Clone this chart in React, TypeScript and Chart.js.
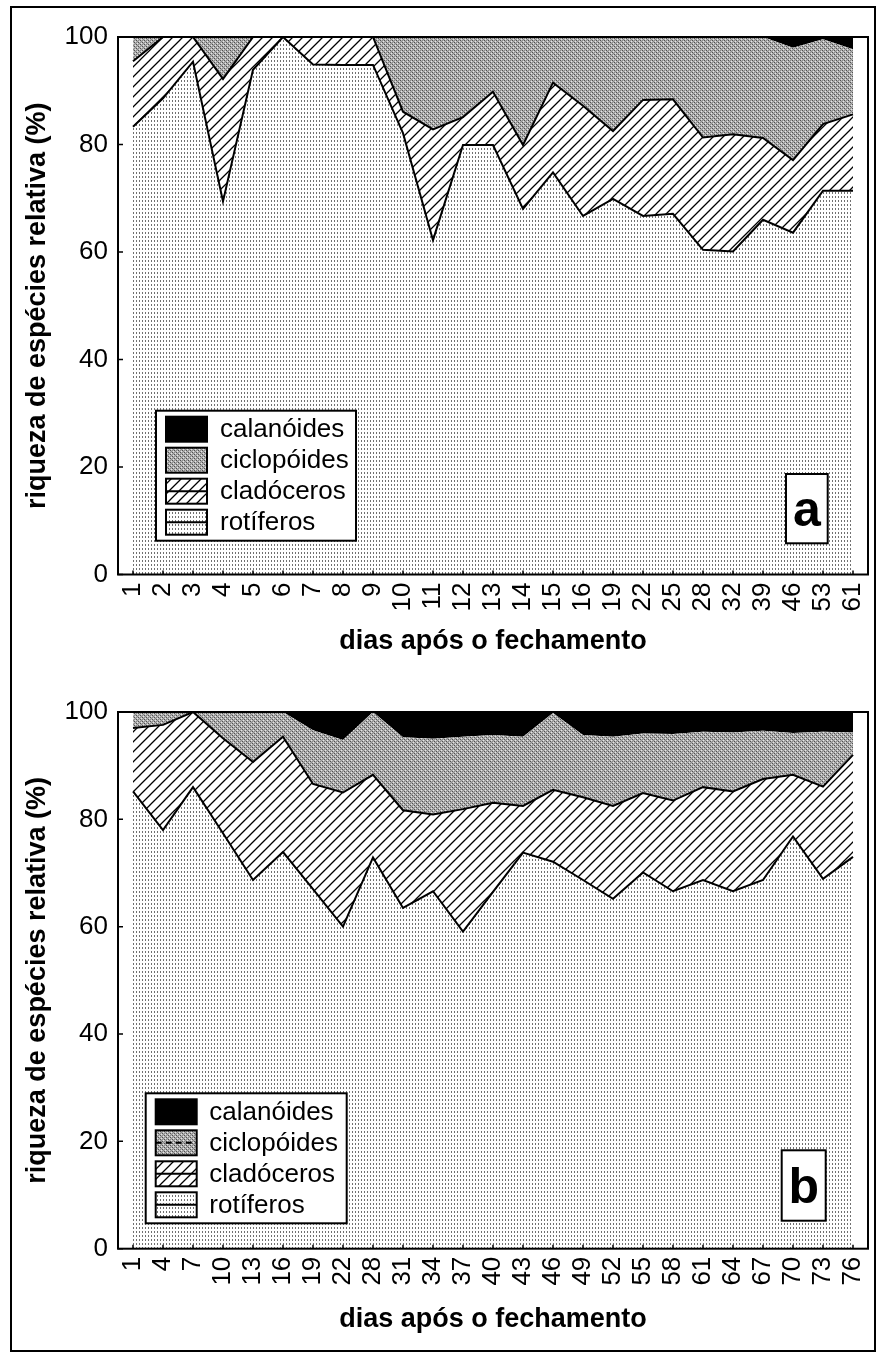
import React, { useEffect, useRef } from 'react';
import { Chart, registerables } from 'chart.js';

Chart.register(...registerables);

const FONT = '"Liberation Sans", Arial, Helvetica, sans-serif';

// ---------- panel a ----------
const diasA = ['1', '2', '3', '4', '5', '6', '7', '8', '9', '10', '11', '12', '13', '14', '15', '16', '19', '22', '25', '28', '32', '39', '46', '53', '61'];
const rotiferosA = [83.3, 88.6, 95.4, 69.4, 93.9, 100, 94.9, 94.8, 94.8, 82.1, 62.2, 79.9, 79.9, 68.0, 74.8, 66.7, 69.9, 66.7, 67.1, 60.4, 60.1, 66.0, 63.6, 71.4, 71.4];
const cladocerosA = [12.2, 11.4, 4.6, 22.8, 6.1, 0, 5.1, 5.2, 5.2, 4.0, 20.6, 5.2, 9.9, 11.9, 16.7, 20.5, 12.6, 21.6, 21.3, 20.9, 21.8, 15.2, 13.5, 12.4, 14.2];
const ciclopoidesA = [4.5, 0, 0, 7.8, 0, 0, 0, 0, 0, 13.9, 17.2, 14.9, 10.2, 20.1, 8.5, 12.8, 17.5, 11.7, 11.6, 18.7, 18.1, 18.8, 20.9, 15.8, 12.1];
const calanoidesA = [0, 0, 0, 0, 0, 0, 0, 0, 0, 0, 0, 0, 0, 0, 0, 0, 0, 0, 0, 0, 0, 0, 2.0, 0.4, 2.3];

// ---------- panel b ----------
const diasB = ['1', '4', '7', '10', '13', '16', '19', '22', '28', '31', '34', '37', '40', '43', '46', '49', '52', '55', '58', '61', '64', '67', '70', '73', '76'];
const rotiferosB = [85.2, 78.0, 86.0, 77.4, 68.7, 73.9, 67.0, 60.0, 72.9, 63.5, 66.6, 59.1, 66.5, 73.8, 72.1, 68.7, 65.2, 70.1, 66.6, 68.7, 66.6, 68.7, 76.8, 68.9, 73.0];
const cladocerosB = [11.8, 19.6, 14.0, 17.7, 22.0, 21.5, 19.6, 25.0, 15.4, 18.2, 14.3, 22.8, 16.6, 8.7, 13.4, 15.4, 17.3, 14.8, 16.9, 17.3, 18.6, 18.8, 11.5, 17.2, 19.0];
const ciclopoidesB = [3.0, 2.4, 0, 4.9, 9.3, 4.6, 10.0, 9.8, 11.7, 13.6, 14.1, 13.5, 12.6, 12.9, 14.3, 11.6, 12.9, 11.1, 12.4, 10.3, 11.0, 9.0, 7.8, 10.2, 4.2];
const calanoidesB = [0, 0, 0, 0, 0, 0, 3.4, 5.2, 0, 4.7, 5.0, 4.6, 4.3, 4.6, 0.2, 4.3, 4.6, 4.0, 4.1, 3.7, 3.8, 3.5, 3.9, 3.7, 3.8];

const yTickValues = [0, 20, 40, 60, 80, 100];
const legendLabels = ['calanóides', 'ciclopóides', 'cladóceros', 'rotíferos'];
const yTitle = 'riqueza de espécies relativa (%)';
const xTitle = 'dias após o fechamento';

function tile(w: number, h: number, draw: (g: CanvasRenderingContext2D) => void) {
  const c = document.createElement('canvas');
  c.width = w;
  c.height = h;
  const g = c.getContext('2d')!;
  draw(g);
  return c;
}

function makePatterns(ctx: CanvasRenderingContext2D) {
  const rot = tile(3, 4, (g) => {
    g.fillStyle = '#ffffff';
    g.fillRect(0, 0, 3, 4);
    g.fillStyle = '#707070';
    g.fillRect(1, 0, 1, 2);
  });
  const cyc = tile(4, 4, (g) => {
    const D = '#505050', M = '#8a8a8a', L = '#b4b4b4', W = '#e4e4e4';
    const m = [
      [D, L, M, L],
      [L, M, L, W],
      [M, L, D, L],
      [L, W, L, M],
    ];
    for (let y = 0; y < 4; y++) for (let x = 0; x < 4; x++) {
      g.fillStyle = m[y][x];
      g.fillRect(x, y, 1, 1);
    }
  });
  const clad = tile(10, 10, (g) => {
    g.fillStyle = '#ffffff';
    g.fillRect(0, 0, 10, 10);
    g.strokeStyle = '#000000';
    g.lineWidth = 1.3;
    g.beginPath();
    g.moveTo(-2, 12); g.lineTo(12, -2);
    g.moveTo(-2, 2); g.lineTo(2, -2);
    g.moveTo(8, 12); g.lineTo(12, 8);
    g.stroke();
  });
  return {
    rot: ctx.createPattern(rot, 'repeat')!,
    cyc: ctx.createPattern(cyc, 'repeat')!,
    clad: ctx.createPattern(clad, 'repeat')!,
  };
}

type PanelProps = {
  top: number;
  height: number;
  bottomPad: number;
  xTitlePad: number;
  dias: string[];
  rot: number[];
  clad: number[];
  cyc: number[];
  cal: number[];
  letter: string;
  legendDx: number;
  legendDy: number;
  legendW: number;
  textDx: number;
  dashedCyc: boolean;
  boxRight: number;
  boxBottom: number;
  boxW: number;
  boxH: number;
};

function Panel(p: PanelProps) {
  const ref = useRef<HTMLCanvasElement>(null);
  useEffect(() => {
    const canvas = ref.current!;
    const ctx = canvas.getContext('2d')!;
    const pats = makePatterns(ctx);

    const overlay = {
      id: 'overlay',
      afterDraw(chart: any) {
        const c: CanvasRenderingContext2D = chart.ctx;
        const a = chart.chartArea;
        const xs = chart.scales.x;
        const ys = chart.scales.y;
        c.save();
        c.strokeStyle = '#000';
        c.lineWidth = 1.5;
        c.beginPath();
        xs.ticks.forEach((_: any, i: number) => {
          const x = xs.getPixelForTick(i);
          c.moveTo(x, a.bottom);
          c.lineTo(x, a.bottom - 4);
        });
        yTickValues.forEach((v) => {
          const y = ys.getPixelForValue(v);
          c.moveTo(a.left, y);
          c.lineTo(a.left + 5, y);
        });
        c.stroke();
        // frame
        c.lineWidth = 2;
        c.strokeRect(a.left, a.top, a.right - a.left, a.bottom - a.top);

        // legend
        const lx = a.left + p.legendDx;
        const ly = a.top + p.legendDy;
        const lw = p.legendW;
        const lh = 130;
        c.fillStyle = '#fff';
        c.fillRect(lx, ly, lw, lh);
        c.lineWidth = 2;
        c.strokeRect(lx, ly, lw, lh);
        const fills: any[] = ['#000', pats.cyc, pats.clad, pats.rot];
        legendLabels.forEach((t, i) => {
          const sx = lx + 10;
          const sy = ly + 6 + i * 31;
          const sw = 41;
          const sh = 25;
          c.fillStyle = fills[i];
          c.fillRect(sx, sy, sw, sh);
          if (i === 2 || i === 3 || (i === 1 && p.dashedCyc)) {
            c.lineWidth = 2;
            c.setLineDash(i === 1 ? [6, 4] : []);
            c.beginPath();
            c.moveTo(sx, sy + sh / 2);
            c.lineTo(sx + sw, sy + sh / 2);
            c.stroke();
            c.setLineDash([]);
          }
          c.lineWidth = 2;
          c.strokeRect(sx, sy, sw, sh);
          c.fillStyle = '#000';
          c.font = `26px ${FONT}`;
          c.textAlign = 'left';
          c.textBaseline = 'middle';
          c.fillText(t, lx + p.textDx, sy + sh / 2 + 1);
        });

        // panel letter
        const bx = a.right - p.boxRight - p.boxW;
        const by = a.bottom - p.boxBottom - p.boxH;
        c.fillStyle = '#fff';
        c.fillRect(bx, by, p.boxW, p.boxH);
        c.lineWidth = 2;
        c.strokeRect(bx, by, p.boxW, p.boxH);
        c.fillStyle = '#000';
        c.font = `bold 50px ${FONT}`;
        c.textAlign = 'center';
        c.textBaseline = 'alphabetic';
        c.fillText(p.letter, bx + p.boxW / 2, by + p.boxH - 17.5);
        c.restore();
      },
    };

    const chart = new Chart(ctx, {
      type: 'line',
      data: {
        labels: p.dias,
        datasets: [
          { label: 'rotíferos', data: p.rot, fill: 'origin', backgroundColor: pats.rot as any, borderColor: '#000', borderWidth: 2 },
          { label: 'cladóceros', data: p.clad, fill: '-1', backgroundColor: pats.clad as any, borderColor: '#000', borderWidth: 2 },
          { label: 'ciclopóides', data: p.cyc, fill: '-1', backgroundColor: pats.cyc as any, borderColor: 'rgba(0,0,0,0)', borderWidth: 0 },
          { label: 'calanóides', data: p.cal, fill: '-1', backgroundColor: '#000', borderColor: 'rgba(0,0,0,0)', borderWidth: 0 },
        ],
      },
      options: {
        responsive: false,
        animation: false,
        events: [],
        elements: { point: { radius: 0, hoverRadius: 0 }, line: { tension: 0 } },
        layout: { padding: { left: 10, right: 9, top: 37, bottom: p.bottomPad } },
        plugins: { legend: { display: false }, tooltip: { enabled: false } },
        scales: {
          x: {
            type: 'category',
            offset: true,
            grid: { display: false, drawTicks: false },
            border: { display: false },
            ticks: {
              autoSkip: false,
              maxRotation: 90,
              minRotation: 90,
              padding: 8,
              color: '#000',
              font: { family: FONT, size: 26 },
            },
            title: {
              display: true,
              text: xTitle,
              color: '#000',
              font: { family: FONT, size: 27, weight: 'bold' },
              padding: { top: 0, bottom: p.xTitlePad },
            },
            afterFit: (s: any) => {
              s.height = 95;
              s.paddingLeft = 0;
              s.paddingRight = 0;
            },
          },
          y: {
            stacked: true,
            min: 0,
            max: 100,
            grid: { display: false, drawTicks: false },
            border: { display: false },
            ticks: {
              stepSize: 20,
              padding: 10,
              color: '#000',
              font: { family: FONT, size: 26 },
            },
            title: {
              display: true,
              text: yTitle,
              color: '#000',
              font: { family: FONT, size: 27, weight: 'bold' },
              padding: { top: 11.5, bottom: 0 },
            },
            afterFit: (s: any) => {
              s.width = 108;
              s.paddingTop = 0;
              s.paddingBottom = 0;
            },
          },
        },
      } as any,
      plugins: [overlay],
    });
    return () => chart.destroy();
  }, []);
  return (
    <canvas
      ref={ref}
      width={877}
      height={p.height}
      style={{ position: 'absolute', left: 0, top: p.top, display: 'block' }}
    />
  );
}

export default function App() {
  return (
    <div style={{ position: 'absolute', left: 0, top: 0, width: 877, height: 1354, background: '#fff' }}>
      <Panel
        top={0}
        height={675}
        bottomPad={5.5}
        xTitlePad={11.5}
        dias={diasA}
        rot={rotiferosA}
        clad={cladocerosA}
        cyc={ciclopoidesA}
        cal={calanoidesA}
        letter="a"
        legendDx={38}
        legendDy={373.7}
        legendW={200}
        textDx={64}
        dashedCyc={false}
        boxRight={40.3}
        boxBottom={31.2}
        boxW={41.7}
        boxH={69.3}
      />
      <Panel
        top={675}
        height={679}
        bottomPad={10.3}
        xTitlePad={7.5}
        dias={diasB}
        rot={rotiferosB}
        clad={cladocerosB}
        cyc={ciclopoidesB}
        cal={calanoidesB}
        letter="b"
        legendDx={27.7}
        legendDy={381.3}
        legendW={201}
        textDx={63.6}
        dashedCyc={true}
        boxRight={42.3}
        boxBottom={28}
        boxW={44}
        boxH={70.4}
      />
      <div
        style={{
          position: 'absolute',
          left: 10,
          top: 6,
          width: 866,
          height: 1346,
          border: '2px solid #000',
          boxSizing: 'border-box',
          pointerEvents: 'none',
        }}
      />
    </div>
  );
}
